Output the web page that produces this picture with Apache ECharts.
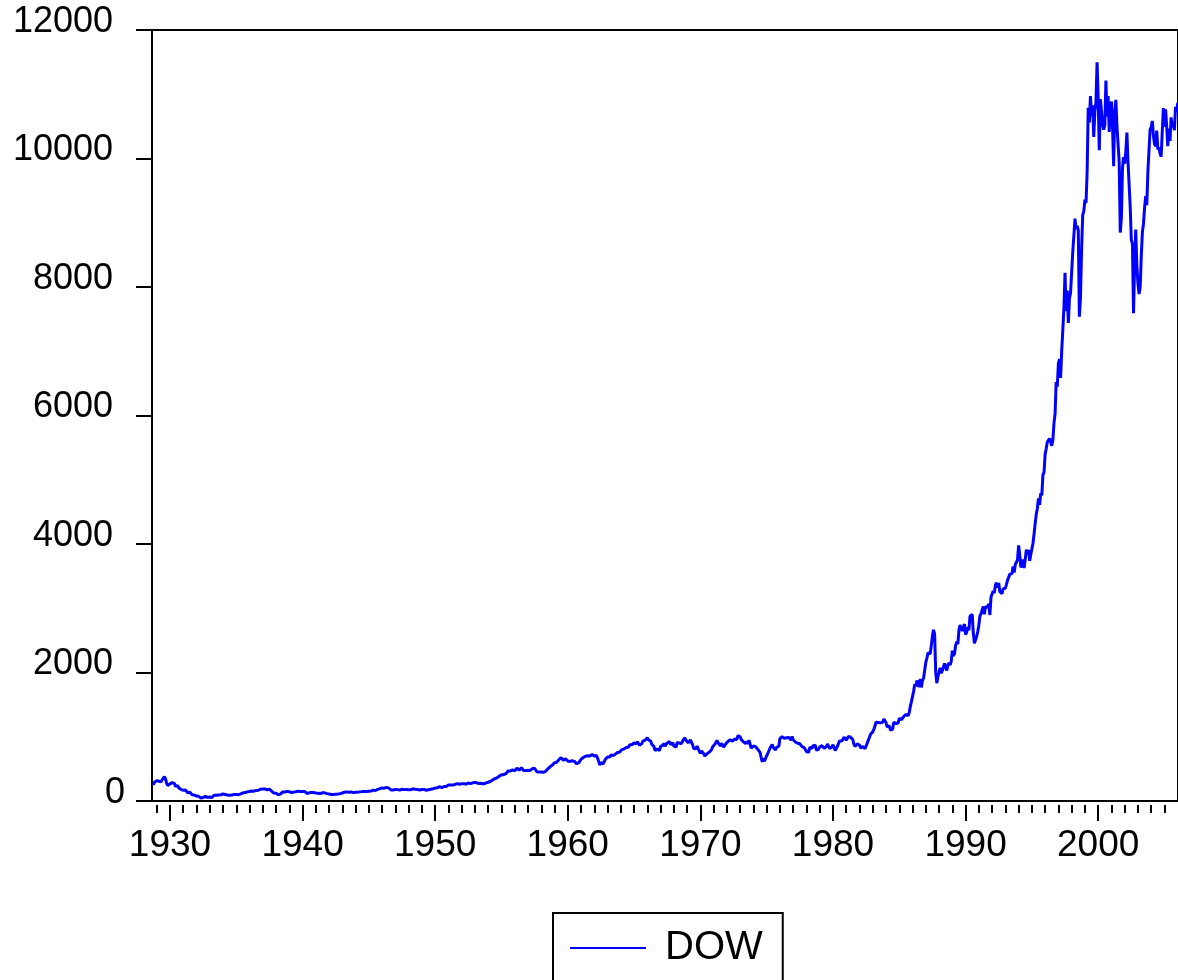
<!DOCTYPE html>
<html>
<head>
<meta charset="utf-8">
<script src="https://cdn.jsdelivr.net/npm/echarts@6/dist/echarts.min.js"></script>
<style>
  html, body { margin: 0; padding: 0; background: #fff; }
  #chart { width: 1178px; height: 980px; }
</style>
</head>
<body>
<div id="chart"></div>
<script>
// Dow Jones Industrial Average, month-end closes, Oct 1928 – Jan 2006
const startYear = 1928;
const startMonth = 10;
const dow1920s = [252, 293, 300,
  317, 317, 308, 319, 297, 333, 347, 380, 343, 273, 238, 248];
const dow1930s = [
  267, 272, 286, 279, 275, 227, 234, 240, 204, 183, 181, 165,
  167, 190, 172, 151, 128, 150, 136, 140, 97, 105, 93, 78,
  76, 82, 73, 56, 45, 43, 54, 73, 72, 61, 56, 60,
  61, 51, 55, 77, 89, 98, 90, 102, 94, 88, 98, 100,
  108, 104, 101, 101, 94, 96, 89, 93, 92, 93, 103, 104,
  102, 100, 99, 109, 111, 119, 126, 127, 131, 140, 143, 144,
  149, 152, 156, 145, 153, 157, 165, 166, 167, 177, 184, 180,
  185, 187, 186, 175, 175, 169, 185, 177, 154, 138, 123, 121,
  121, 129, 99, 111, 108, 134, 141, 139, 141, 151, 150, 155,
  144, 147, 131, 128, 138, 131, 144, 137, 153, 151, 146, 150];
const dow1940s = [
  146, 147, 148, 149, 117, 122, 127, 131, 132, 135, 131, 131,
  125, 121, 122, 116, 116, 123, 128, 127, 127, 118, 115, 111,
  109, 106, 100, 96, 100, 103, 106, 107, 109, 115, 114, 119,
  125, 130, 136, 135, 142, 143, 137, 137, 141, 138, 130, 136,
  137, 136, 138, 137, 142, 148, 146, 147, 146, 146, 148, 152,
  153, 160, 154, 165, 169, 165, 163, 174, 181, 187, 192, 193,
  204, 190, 199, 207, 212, 205, 201, 189, 172, 169, 170, 177,
  180, 178, 177, 170, 170, 178, 183, 179, 177, 181, 180, 181,
  175, 166, 177, 180, 190, 189, 181, 181, 178, 189, 171, 177,
  179, 173, 178, 174, 168, 167, 175, 178, 182, 189, 191, 200];
const dow1950s = [
  201, 203, 206, 214, 223, 209, 209, 216, 226, 225, 227, 235,
  249, 252, 248, 259, 250, 242, 258, 270, 271, 262, 261, 269,
  270, 260, 270, 258, 262, 274, 280, 275, 270, 269, 283, 292,
  290, 284, 280, 274, 272, 268, 275, 261, 265, 276, 281, 281,
  292, 295, 304, 319, 327, 334, 348, 336, 361, 352, 387, 404,
  409, 412, 409, 426, 425, 451, 466, 468, 467, 455, 484, 488,
  471, 484, 512, 516, 478, 493, 518, 502, 475, 480, 473, 500,
  479, 465, 475, 494, 505, 503, 509, 484, 456, 441, 450, 436,
  450, 439, 446, 456, 463, 478, 502, 509, 532, 543, 558, 584,
  594, 604, 602, 624, 644, 644, 675, 664, 632, 646, 659, 679];
const dow1960s = [
  622, 630, 616, 601, 626, 641, 617, 626, 580, 580, 597, 616,
  648, 662, 677, 679, 697, 684, 705, 720, 701, 704, 722, 731,
  700, 708, 707, 665, 613, 561, 597, 609, 579, 590, 649, 652,
  683, 662, 683, 718, 727, 707, 695, 729, 733, 755, 751, 763,
  785, 800, 813, 811, 821, 832, 841, 839, 875, 873, 875, 874,
  903, 904, 889, 922, 918, 868, 882, 893, 931, 961, 947, 969,
  984, 951, 924, 934, 884, 870, 847, 788, 774, 807, 792, 786,
  850, 839, 865, 897, 853, 860, 904, 901, 927, 880, 875, 905,
  856, 840, 840, 912, 899, 898, 883, 896, 936, 952, 985, 944,
  946, 905, 936, 950, 938, 873, 816, 837, 813, 856, 812, 800];
const dow1970s = [
  744, 778, 786, 736, 700, 684, 735, 765, 761, 756, 794, 839,
  869, 879, 904, 942, 908, 891, 858, 898, 887, 839, 831, 890,
  902, 928, 941, 954, 961, 929, 925, 964, 953, 956, 1018, 1020,
  999, 955, 951, 921, 901, 892, 926, 888, 947, 956, 822, 851,
  856, 860, 847, 837, 802, 802, 757, 679, 608, 666, 619, 616,
  704, 739, 768, 821, 832, 879, 832, 835, 794, 836, 861, 852,
  975, 973, 1000, 997, 975, 1003, 985, 974, 990, 965, 947, 1005,
  954, 936, 919, 927, 899, 916, 891, 862, 847, 818, 830, 831,
  770, 742, 757, 837, 841, 819, 862, 877, 866, 793, 799, 805,
  840, 809, 862, 855, 822, 842, 846, 888, 879, 816, 822, 839];
const dow1980s = [
  876, 863, 786, 817, 851, 868, 935, 933, 932, 925, 993, 964,
  947, 975, 1004, 998, 992, 977, 953, 882, 850, 853, 889, 875,
  872, 824, 823, 848, 820, 812, 809, 901, 896, 992, 1039, 1047,
  1076, 1113, 1130, 1226, 1200, 1222, 1199, 1216, 1233, 1225, 1276, 1259,
  1221, 1155, 1165, 1171, 1105, 1132, 1115, 1224, 1207, 1207, 1189, 1212,
  1287, 1284, 1267, 1258, 1315, 1336, 1347, 1334, 1329, 1374, 1472, 1547,
  1571, 1709, 1819, 1784, 1877, 1893, 1775, 1898, 1768, 1878, 1914, 1896,
  2158, 2224, 2305, 2286, 2292, 2419, 2572, 2663, 2596, 1994, 1834, 1939,
  1958, 2072, 1988, 2032, 2031, 2142, 2129, 2032, 2112, 2149, 2115, 2169,
  2342, 2258, 2294, 2419, 2480, 2440, 2661, 2737, 2693, 2645, 2706, 2753];
const dow1990s = [
  2591, 2627, 2707, 2657, 2877, 2881, 2905, 2614, 2453, 2442, 2560, 2634,
  2736, 2882, 2914, 2888, 3028, 2907, 3025, 3044, 3017, 3069, 2895, 3169,
  3223, 3268, 3236, 3359, 3397, 3319, 3394, 3257, 3272, 3226, 3305, 3301,
  3310, 3371, 3435, 3428, 3527, 3516, 3540, 3651, 3555, 3681, 3684, 3754,
  3978, 3832, 3636, 3682, 3758, 3625, 3765, 3913, 3843, 3908, 3739, 3834,
  3844, 4011, 4158, 4321, 4465, 4556, 4709, 4611, 4789, 4756, 5075, 5117,
  5395, 5486, 5588, 5569, 5643, 5655, 5529, 5616, 5882, 6029, 6522, 6448,
  6813, 6878, 6584, 7009, 7331, 7673, 8223, 7622, 7945, 7442, 7823, 7908,
  7907, 8546, 8800, 9063, 8900, 8952, 8884, 7539, 7843, 8592, 9117, 9181,
  9359, 9307, 9786, 10789, 10560, 10971, 10655, 10829, 10337, 10729, 10878, 11497];
const dow2000s = [
  10941, 10128, 10922, 10734, 10522, 10448, 10522, 11215, 10651, 10971, 10415, 10787,
  10887, 10495, 9879, 10735, 10912, 10502, 10523, 9950, 8848, 9075, 9852, 10022,
  9920, 10106, 10404, 9946, 9925, 9243, 8737, 8664, 7592, 8397, 8896, 8342,
  8054, 7891, 7992, 8480, 8850, 8985, 9234, 9416, 9275, 9801, 9782, 10454,
  10488, 10584, 10358, 10226, 10188, 10435, 10140, 10174, 10080, 10027, 10428, 10783,
  10490, 10766, 10504, 10193, 10467, 10275, 10641, 10482, 10569, 10440, 10806, 10718,
  10865];

const yearLabels = [1930, 1940, 1950, 1960, 1970, 1980, 1990, 2000];
const yearTicks = [];
for (let y = 1929; y <= 2005; y++) yearTicks.push(y);

// place each monthly value on a fractional-year scale
const allValues = [].concat(dow1920s, dow1930s, dow1940s, dow1950s, dow1960s,
  dow1970s, dow1980s, dow1990s, dow2000s);
const seriesData = allValues.map((v, i) => {
  const m = startMonth - 1 + i;
  return [startYear + m / 12, v];
});

const X_MIN = 1928.645;
const X_MAX = 2006.02;
const FONT = '"Liberation Sans", Arial, sans-serif';

const chart = echarts.init(document.getElementById('chart'), null, { renderer: 'canvas' });

const baseX = {
  type: 'value', min: X_MIN, max: X_MAX, position: 'bottom',
  axisLine: { show: false }, splitLine: { show: false },
  axisTick: { show: false }, axisLabel: { show: false }
};

const yLabelStyle = { fontFamily: FONT, fontSize: 36, color: '#000', lineHeight: 16 };

chart.setOption({
  animation: false,
  backgroundColor: '#ffffff',
  grid: {
    left: 152, right: -2, top: 30, bottom: 179,
    show: true, borderColor: '#000', borderWidth: 2, backgroundColor: 'transparent'
  },
  legend: {
    left: 553, top: 913,
    orient: 'horizontal',
    padding: [15, 20, 60, 17],
    borderColor: '#000', borderWidth: 2,
    itemWidth: 76, itemHeight: 2,
    textStyle: { fontFamily: FONT, fontSize: 40, color: '#000', padding: [0, 0, 0, 14] },
    data: [{ name: 'DOW', icon: 'rect', itemStyle: { color: '#0000ff' } }]
  },
  xAxis: [
    Object.assign({}, baseX),
    Object.assign({}, baseX, {
      offset: 4,
      axisTick: { show: true, customValues: yearTicks, length: 8, lineStyle: { color: '#000', width: 2 } }
    }),
    Object.assign({}, baseX, {
      offset: 4,
      axisTick: { show: true, customValues: yearLabels, length: 16, lineStyle: { color: '#000', width: 2 } },
      axisLabel: {
        show: true, customValues: yearLabels, margin: 22,
        fontFamily: FONT, fontSize: 37, color: '#000',
        formatter: v => String(v)
      }
    })
  ],
  yAxis: {
    type: 'value', min: 0, max: 12000, interval: 2000,
    axisLine: { show: false },
    splitLine: { show: false },
    axisTick: { show: true, length: 16, lineStyle: { color: '#000', width: 2 } },
    axisLabel: {
      margin: 27, fontFamily: FONT, fontSize: 36, color: '#000',
      verticalAlign: 'bottom', lineHeight: 16,
      formatter: v => (v === 0 ? '{z|0}' : '{n|' + v + '}'),
      rich: {
        n: Object.assign({ padding: [0, 12, 0, 0] }, yLabelStyle),
        z: Object.assign({}, yLabelStyle)
      }
    }
  },
  series: [{
    name: 'DOW',
    type: 'line',
    xAxisIndex: 0,
    data: seriesData,
    symbol: 'none',
    lineStyle: { color: '#0000ff', width: 3 },
    itemStyle: { color: '#0000ff' }
  }]
});
</script>
</body>
</html>
